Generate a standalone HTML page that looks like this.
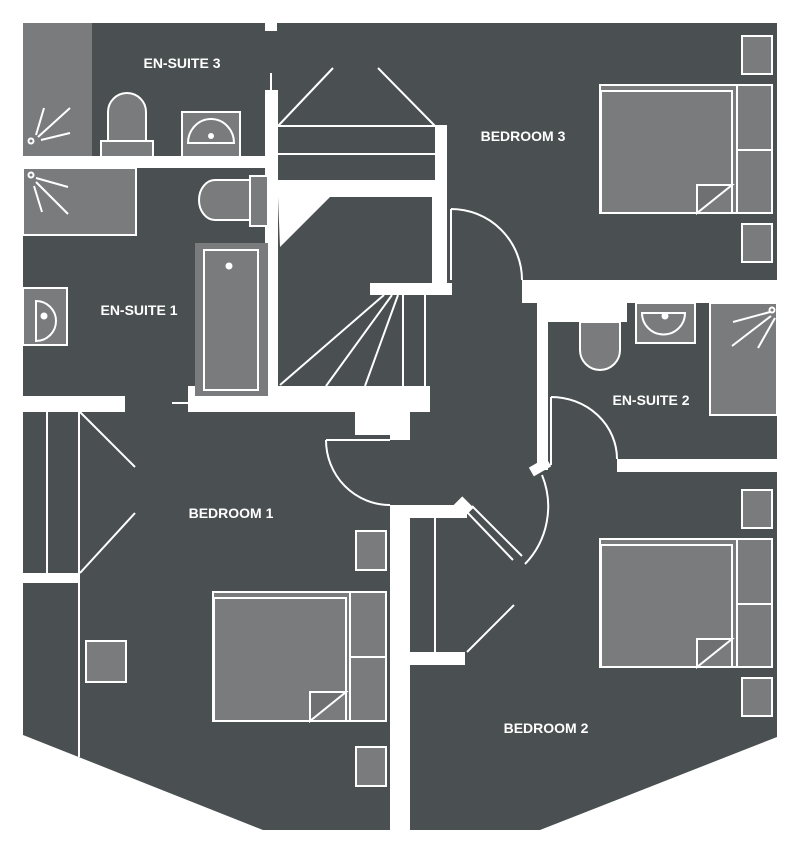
<!DOCTYPE html>
<html><head><meta charset="utf-8"><style>html,body{margin:0;padding:0;background:#fff}svg{display:block}</style></head>
<body>
<svg width="800" height="849" viewBox="0 0 800 849" xmlns="http://www.w3.org/2000/svg">
<rect width="800" height="849" fill="#fff"/>
<polygon points="23,23 777,23 777,737 540,830 263,830 23,735" fill="#4a4f51"/>
<g fill="#fff">
<rect x="265" y="23" width="12" height="8"/>
<rect x="23" y="156" width="245" height="12"/>
<rect x="265" y="90" width="13" height="306"/>
<rect x="270" y="73" width="2" height="18"/>
<rect x="278" y="180" width="169" height="17"/>
<rect x="435" y="125" width="12" height="170"/>
<polygon points="278,197 330,197 280,247"/>
<rect x="370" y="283" width="82" height="12"/>
<rect x="432" y="197" width="3" height="90"/>
<rect x="188" y="386" width="242" height="26"/>
<rect x="23" y="396" width="102" height="16"/>
<rect x="355" y="395" width="55" height="40"/>
<rect x="390" y="420" width="20" height="20"/>
<rect x="172" y="402" width="16" height="2"/>
<rect x="522" y="280" width="255" height="23"/>
<rect x="537" y="280" width="11" height="190"/>
<rect x="548" y="303" width="79" height="19"/>
<rect x="617" y="459" width="160" height="13"/>
<rect x="530" y="462" width="20" height="10" transform="rotate(-30 540 467)"/>
<rect x="390" y="505" width="20" height="325"/>
<rect x="410" y="505" width="57" height="13"/>
<rect x="410" y="652" width="55" height="13"/>
<rect x="23" y="573" width="55" height="10"/>
<rect x="455" y="500" width="16" height="14" transform="rotate(45 463 507)"/>
</g>
<g fill="#7a7b7c" stroke="#fff" stroke-width="2">
<rect x="23" y="23" width="69" height="133" stroke="none"/>
<rect x="23" y="168" width="113" height="67"/>
<rect x="195" y="243" width="73" height="153" stroke="none"/>
<rect x="204" y="250" width="54" height="140"/>
<rect x="23" y="288" width="44" height="57"/>
<rect x="250" y="176" width="18" height="50"/>
<path d="M250,180 H215 A16,20 0 0 0 215,220 H250 Z"/>
<rect x="101" y="141" width="52" height="16"/>
<path d="M108,141 V112 A19,19 0 0 1 146,112 V141 Z"/>
<rect x="182" y="112" width="58" height="45"/>
<rect x="710" y="303" width="67" height="112"/>
<rect x="636" y="303" width="59" height="40"/>
<path d="M580,322 V350 A20,20 0 0 0 620,350 V322 Z"/>
<rect x="86" y="641" width="40" height="41"/>
<rect x="356" y="531" width="30" height="39"/>
<rect x="356" y="747" width="30" height="39"/>
<rect x="742" y="36" width="30" height="38"/>
<rect x="742" y="224" width="30" height="38"/>
<rect x="742" y="490" width="30" height="38"/>
<rect x="742" y="678" width="30" height="38"/>
</g>
<g fill="none" stroke="#fff" stroke-width="2">
<path d="M188,143 A23,24 0 0 1 234,143 Z"/>
<path d="M36,301 A20,20 0 0 1 36,341 Z"/>
<path d="M642,313 H685 A21,21 0 0 1 642,313 Z"/>
<path d="M36,135 L44,108 M38,137 L70,108 M41,140 L70,133"/>
<path d="M36,178 L68,187 M36,182 L68,214 M34,186 L42,212"/>
<path d="M770,312 L733,322 M771,316 L732,346 M775,318 L758,348"/>
<circle cx="31" cy="141" r="2.5"/><circle cx="31" cy="175" r="2.5"/><circle cx="772" cy="310" r="2.5"/>
</g>
<g fill="#fff"><circle cx="211" cy="136" r="3"/><circle cx="44" cy="316" r="3.5"/><circle cx="665" cy="316" r="3.5"/><circle cx="229" cy="266" r="3.5"/></g>
<g stroke="#fff" stroke-width="2" fill="#7a7b7c">
<rect x="600" y="85" width="172" height="128"/>
<rect x="601" y="91" width="131" height="122"/>
<rect x="737" y="85" width="35" height="65"/><rect x="737" y="150" width="35" height="63"/>
<path d="M697,213 V185 H732 Z" fill="#6f7071"/>
<rect x="600" y="539" width="172" height="128"/>
<rect x="601" y="545" width="131" height="122"/>
<rect x="737" y="539" width="35" height="65"/><rect x="737" y="604" width="35" height="63"/>
<path d="M697,667 V639 H732 Z" fill="#6f7071"/>
<rect x="213" y="592" width="173" height="129"/>
<rect x="214" y="598" width="132" height="123"/>
<rect x="350" y="592" width="36" height="65"/><rect x="350" y="657" width="36" height="64"/>
<path d="M310,721 V692 H346 Z" fill="#6f7071"/>
</g>
<g fill="none" stroke="#fff" stroke-width="2">
<path d="M278,126 H435 M278,154 H435 M278,126 L333,68 M378,68 L435,126"/>
<path d="M403,295 V386 M425,295 V386 M384,295 L280,385 M392,295 L326,386 M398,295 L365,386"/>
<path d="M451,209 V280 M451,209 A71,71 0 0 1 522,280"/>
<path d="M551,397 V465 M551,397 A66,62 0 0 1 617,459"/>
<path d="M326,440 H390 M326,440 A64,65 0 0 0 390,505"/>
<path d="M467,512 L513,560 M472,506 L522,556 M525,564 A83,83 0 0 0 542,475"/>
<path d="M435,518 V652 M467,652 L514,605"/>
<path d="M47,412 V573 M79,412 V757 M80,412 L135,467 M80,573 L135,513"/>
</g>
<g font-family="'Liberation Sans',sans-serif" font-weight="bold" font-size="14" fill="#fff" text-anchor="middle">
<text x="182" y="68">EN-SUITE 3</text>
<text x="523" y="141">BEDROOM 3</text>
<text x="139" y="315">EN-SUITE 1</text>
<text x="651" y="405">EN-SUITE 2</text>
<text x="231" y="518">BEDROOM 1</text>
<text x="546" y="733">BEDROOM 2</text>
</g>
</svg>
</body></html>
